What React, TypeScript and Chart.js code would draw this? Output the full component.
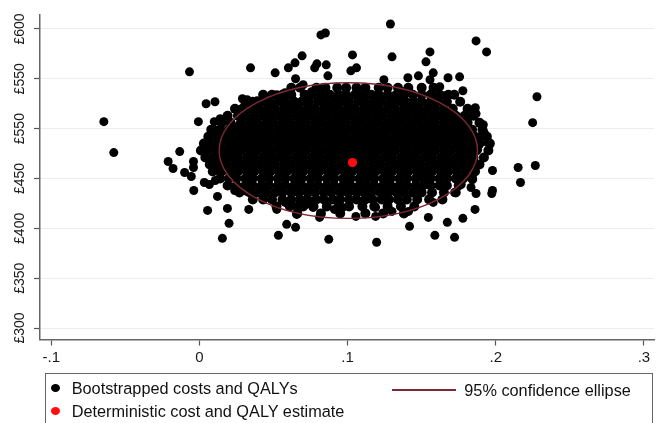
import React, { useEffect, useRef } from 'react';
import { Chart, registerables } from 'chart.js';

Chart.register(...registerables);

const FONT = '"Liberation Sans", Arial, Helvetica, sans-serif';

// Axis ticks
const xTickValues = [-0.1, 0, 0.1, 0.2, 0.3];
const xTickLabels = ['-.1', '0', '.1', '.2', '.3'];
const yTickValues = [300, 350, 400, 450, 500, 550, 600];
const yTickLabels = ['£300', '£350', '£400', '£450', '£550', '£550', '£600'];

// Legend labels
const seriesLabels = ['Bootstrapped costs and QALYs', 'Deterministic cost and QALY estimate', '95% confidence ellipse'];

// Bootstrapped (incremental QALY, incremental cost) pairs: scattered outer points
const outerPoints: [number, number][] = [
  [-0.0067, 557], [-0.0645, 507], [0.0045, 525], [0.0105, 527], [-0.0007, 507], [0.010, 507], [0.014, 510], [0.029, 530], [0.010, 499], [0.0245, 502],
  [0.1289, 605], [0.082, 594], [0.085, 596], [0.0345, 561], [0.0511, 556], [0.060, 561], [0.0645, 566], [0.0693, 573], [0.0649, 550], [0.0778, 561],
  [0.0793, 565], [0.0856, 564], [0.0867, 553], [0.1033, 574], [0.1022, 558], [0.106, 561], [0.130, 572], [0.1245, 549], [0.070, 544], [0.0322, 529],
  [0.0389, 528], [0.0489, 525], [0.0522, 534], [0.0578, 536], [0.0756, 537], [0.0833, 541],
  [0.1867, 588], [0.1938, 577], [0.1556, 577], [0.1529, 567], [0.1407, 551], [0.1478, 553], [0.1578, 556], [0.1556, 549], [0.1678, 551], [0.1756, 552],
  [0.1778, 538], [0.1622, 542], [0.1656, 533], [0.2278, 532], [0.2249, 506], [0.1862, 521], [0.1867, 515], [0.1916, 504], [0.1682, 516], [0.1716, 507],
  [0.1767, 498], [0.1378, 537], [0.1433, 526], [0.1378, 526], [0.1578, 531], [0.159, 524], [0.1567, 514], [0.1467, 512], [0.140, 514], [0.1556, 506],
  [-0.0578, 476], [-0.0133, 477], [-0.0211, 467], [-0.0178, 460], [-0.010, 456], [-0.0055, 452], [-0.004, 467], [-0.004, 461], [-0.0038, 438], [0.0033, 446],
  [0.0067, 444], [0.0107, 448], [0.0122, 432], [0.0055, 418], [0.0189, 420], [0.020, 405], [0.0155, 390], [0.0055, 484], [0.0033, 480], [0.0111, 458],
  [0.0222, 454], [0.0238, 438], [0.010, 496], [0.0133, 472], [0.0189, 471], [0.0255, 487],
  [0.0333, 419], [0.0533, 393], [0.0589, 404], [0.0649, 401], [0.0873, 389], [0.1196, 386], [0.0811, 411], [0.1056, 412], [0.1189, 412], [0.130, 417],
  [0.0522, 419], [0.0578, 426], [0.0656, 422], [0.0656, 414], [0.0722, 424], [0.0767, 421], [0.0911, 419], [0.0967, 421], [0.1189, 421], [0.0345, 446],
  [0.0322, 437],
  [0.1978, 458], [0.2151, 461], [0.2267, 463], [0.2167, 446], [0.1978, 438], [0.1973, 435], [0.1867, 435], [0.186, 419], [0.1778, 410], [0.1673, 406],
  [0.1545, 411], [0.1418, 402], [0.1589, 393], [0.1722, 391], [0.1411, 417], [0.1578, 426], [0.1722, 436], [0.1833, 441], [0.1844, 449], [0.1767, 444],
  [0.190, 492], [0.1944, 486], [0.1922, 496], [0.1878, 479],
];

// Dense core of the bootstrap cloud, read row by row: [cost, QALY values in that row]
const coreRows: [number, number[]][] = [
  [541, [0.062, 0.068, 0.079, 0.085, 0.093, 0.099, 0.106, 0.112, 0.121, 0.127, 0.134, 0.141, 0.150, 0.158]],
  [534, [0.043, 0.049, 0.056, 0.062, 0.071, 0.076, 0.082, 0.088, 0.094, 0.099, 0.105, 0.110, 0.116, 0.121, 0.127, 0.133, 0.138, 0.144, 0.150, 0.156, 0.162, 0.168, 0.172]],
  [527, [0.031, 0.036, 0.042, 0.047, 0.053, 0.058, 0.064, 0.069, 0.074, 0.080, 0.085, 0.091, 0.096, 0.101, 0.107, 0.112, 0.118, 0.123, 0.129, 0.134, 0.139, 0.145, 0.150, 0.156, 0.161, 0.167, 0.176]],
  [520, [0.024, 0.029, 0.035, 0.040, 0.046, 0.051, 0.057, 0.062, 0.067, 0.073, 0.078, 0.084, 0.089, 0.094, 0.100, 0.105, 0.111, 0.116, 0.121, 0.127, 0.132, 0.138, 0.143, 0.148, 0.154, 0.159, 0.165, 0.171, 0.181]],
  [513, [0.019, 0.026, 0.031, 0.037, 0.043, 0.048, 0.054, 0.059, 0.065, 0.070, 0.075, 0.081, 0.086, 0.092, 0.097, 0.102, 0.108, 0.113, 0.119, 0.124, 0.130, 0.135, 0.140, 0.146, 0.151, 0.157, 0.162, 0.168, 0.173, 0.179, 0.185]],
  [506, [0.015, 0.021, 0.028, 0.034, 0.039, 0.045, 0.050, 0.056, 0.061, 0.067, 0.072, 0.078, 0.083, 0.089, 0.094, 0.099, 0.105, 0.110, 0.116, 0.121, 0.127, 0.132, 0.137, 0.143, 0.148, 0.154, 0.159, 0.165, 0.170, 0.176, 0.181, 0.189]],
  [499, [0.008, 0.014, 0.020, 0.025, 0.031, 0.036, 0.042, 0.047, 0.053, 0.058, 0.064, 0.069, 0.075, 0.080, 0.086, 0.091, 0.097, 0.102, 0.108, 0.113, 0.118, 0.124, 0.129, 0.135, 0.140, 0.146, 0.151, 0.156, 0.162, 0.167, 0.173, 0.178, 0.184, 0.191]],
  [492, [0.006, 0.011, 0.017, 0.022, 0.028, 0.033, 0.039, 0.044, 0.050, 0.055, 0.061, 0.066, 0.072, 0.077, 0.083, 0.088, 0.094, 0.099, 0.105, 0.110, 0.116, 0.121, 0.126, 0.132, 0.137, 0.143, 0.148, 0.154, 0.159, 0.164, 0.170, 0.175, 0.181, 0.186, 0.194]],
  [485, [0.003, 0.009, 0.014, 0.020, 0.025, 0.031, 0.036, 0.042, 0.047, 0.053, 0.058, 0.064, 0.069, 0.075, 0.080, 0.086, 0.091, 0.097, 0.102, 0.108, 0.113, 0.118, 0.124, 0.129, 0.135, 0.140, 0.146, 0.151, 0.156, 0.162, 0.167, 0.173, 0.178, 0.184, 0.189, 0.196]],
  [478, [0.001, 0.006, 0.012, 0.017, 0.023, 0.028, 0.034, 0.039, 0.045, 0.050, 0.056, 0.061, 0.067, 0.072, 0.078, 0.083, 0.089, 0.094, 0.100, 0.105, 0.110, 0.116, 0.121, 0.127, 0.132, 0.138, 0.143, 0.148, 0.154, 0.159, 0.165, 0.170, 0.176, 0.181, 0.187, 0.195]],
  [471, [0.004, 0.010, 0.015, 0.021, 0.026, 0.032, 0.037, 0.043, 0.048, 0.054, 0.059, 0.065, 0.070, 0.076, 0.081, 0.087, 0.092, 0.098, 0.103, 0.108, 0.114, 0.119, 0.125, 0.130, 0.136, 0.141, 0.146, 0.152, 0.157, 0.163, 0.168, 0.174, 0.179, 0.185, 0.192]],
  [464, [0.007, 0.013, 0.018, 0.024, 0.029, 0.035, 0.040, 0.046, 0.051, 0.057, 0.062, 0.068, 0.073, 0.079, 0.084, 0.090, 0.095, 0.101, 0.106, 0.111, 0.117, 0.122, 0.128, 0.133, 0.139, 0.144, 0.149, 0.155, 0.160, 0.166, 0.171, 0.177, 0.183, 0.189]],
  [457, [0.009, 0.015, 0.021, 0.026, 0.032, 0.037, 0.043, 0.048, 0.054, 0.059, 0.065, 0.070, 0.076, 0.081, 0.087, 0.092, 0.098, 0.103, 0.109, 0.114, 0.119, 0.125, 0.130, 0.136, 0.141, 0.147, 0.152, 0.157, 0.163, 0.168, 0.174, 0.180, 0.186]],
  [450, [0.014, 0.020, 0.025, 0.031, 0.036, 0.042, 0.047, 0.053, 0.058, 0.064, 0.069, 0.075, 0.080, 0.086, 0.091, 0.097, 0.102, 0.108, 0.113, 0.118, 0.124, 0.129, 0.135, 0.140, 0.146, 0.151, 0.156, 0.162, 0.167, 0.173, 0.178, 0.184]],
  [443, [0.019, 0.025, 0.031, 0.036, 0.042, 0.047, 0.053, 0.058, 0.064, 0.069, 0.075, 0.080, 0.086, 0.091, 0.097, 0.102, 0.108, 0.113, 0.118, 0.124, 0.129, 0.135, 0.140, 0.146, 0.151, 0.156, 0.162, 0.167, 0.175]],
  [436, [0.027, 0.034, 0.040, 0.045, 0.051, 0.056, 0.062, 0.067, 0.073, 0.078, 0.084, 0.089, 0.095, 0.100, 0.106, 0.111, 0.116, 0.122, 0.127, 0.133, 0.138, 0.144, 0.150, 0.157, 0.165, 0.173]],
  [429, [0.036, 0.043, 0.049, 0.056, 0.062, 0.068, 0.073, 0.079, 0.084, 0.090, 0.095, 0.101, 0.106, 0.112, 0.117, 0.123, 0.128, 0.134, 0.140, 0.147, 0.155, 0.164]],
  [422, [0.052, 0.061, 0.070, 0.077, 0.086, 0.094, 0.101, 0.110, 0.118, 0.127, 0.136, 0.145]],
  [415, [0.066, 0.082, 0.095, 0.112, 0.124, 0.138]],
];

const deterministicPoint: [number, number] = [0.1033, 466];

// 95% confidence ellipse: centre and semi-axes (QALY, cost)
const ellipseCenter: [number, number] = [0.1005, 478];
const ellipseSemiAxes: [number, number] = [0.0872, 68];

const ELLIPSE_COLOR = '#7b2a35';
const RED = '#ff0d0d';

const ellipsePlugin = {
  id: 'ceEllipse',
  beforeDatasetDraw(chart: any, args: any) {
    if (args.index !== 1) return;
    const xs = chart.scales.x;
    const ys = chart.scales.y;
    const cx = xs.getPixelForValue(ellipseCenter[0]);
    const cy = ys.getPixelForValue(ellipseCenter[1]);
    const rx = Math.abs(xs.getPixelForValue(ellipseCenter[0] + ellipseSemiAxes[0]) - cx);
    const ry = Math.abs(ys.getPixelForValue(ellipseCenter[1] + ellipseSemiAxes[1]) - cy);
    const ctx = chart.ctx;
    ctx.save();
    ctx.beginPath();
    ctx.ellipse(cx, cy, rx, ry, 0, 0, Math.PI * 2);
    ctx.strokeStyle = ELLIPSE_COLOR;
    ctx.lineWidth = 1.4;
    ctx.stroke();
    ctx.restore();
  },
};

export default function App() {
  const canvasRef = useRef<HTMLCanvasElement | null>(null);

  useEffect(() => {
    if (!canvasRef.current) return;
    const bootData = [
      ...outerPoints.map(([x, y]) => ({ x, y })),
      ...coreRows.flatMap(([y, xs]) => xs.map((x) => ({ x, y }))),
    ];
    const nOuter = outerPoints.length;
    const chart = new Chart(canvasRef.current, {
      type: 'scatter',
      data: {
        datasets: [
          {
            label: seriesLabels[0],
            data: bootData,
            backgroundColor: '#000000',
            borderWidth: 0,
            pointRadius: (c: any) => (c.dataIndex >= nOuter ? 5.0 : 4.5),
            order: 1,
          },
          {
            label: seriesLabels[1],
            data: [{ x: deterministicPoint[0], y: deterministicPoint[1] }],
            backgroundColor: RED,
            borderWidth: 0,
            pointRadius: 4.6,
            order: 0,
          },
        ],
      },
      options: {
        responsive: false,
        animation: false,
        events: [],
        layout: { padding: { top: 15, left: 0, right: 0, bottom: 0 } },
        plugins: { legend: { display: false }, tooltip: { enabled: false } },
        scales: {
          x: {
            type: 'linear',
            min: -0.1076,
            max: 0.3068,
            afterBuildTicks: (scale: any) => {
              scale.ticks = xTickValues.map((v) => ({ value: v }));
            },
            afterFit: (scale: any) => {
              scale.height = 83.5;
            },
            grid: { drawOnChartArea: false, drawTicks: true, tickLength: 6, tickColor: '#555', tickWidth: 1.2 },
            border: { display: true, color: '#666', width: 1.5 },
            ticks: {
              padding: 3,
              maxRotation: 0,
              minRotation: 0,
              color: '#1a1a1a',
              font: { family: FONT, size: 15 },
              callback: (v: any) => {
                const i = xTickValues.findIndex((t) => Math.abs(t - Number(v)) < 1e-9);
                return i >= 0 ? xTickLabels[i] : '';
              },
            },
          },
          y: {
            type: 'linear',
            min: 288.5,
            max: 614,
            afterBuildTicks: (scale: any) => {
              scale.ticks = yTickValues.map((v) => ({ value: v }));
            },
            afterFit: (scale: any) => {
              scale.width = 40;
            },
            grid: { color: '#e9eef2', lineWidth: 1, drawTicks: true, tickLength: 6, tickColor: '#555', tickWidth: 1.2 },
            border: { display: true, color: '#666', width: 1.5 },
            ticks: {
              padding: -2,
              minRotation: 90,
              maxRotation: 90,
              crossAlign: 'center',
              color: '#1a1a1a',
              font: { family: FONT, size: 14 },
              callback: (v: any) => {
                const i = yTickValues.findIndex((t) => Math.abs(t - Number(v)) < 1e-9);
                return i >= 0 ? yTickLabels[i] : '';
              },
            },
          },
        },
      },
      plugins: [ellipsePlugin],
    } as any);
    return () => chart.destroy();
  }, []);

  const textStyle: React.CSSProperties = {
    position: 'absolute',
    fontFamily: FONT,
    fontSize: '16.3px',
    lineHeight: '20px',
    color: '#111',
    whiteSpace: 'nowrap',
  };
  const dot = (color: string, cx: number, cy: number): React.CSSProperties => ({
    position: 'absolute',
    left: cx - 4.5,
    top: cy - 4,
    width: 9,
    height: 8,
    borderRadius: '50%',
    background: color,
  });

  return (
    <div style={{ position: 'fixed', left: 0, top: 0, width: 659, height: 423, background: '#fff', overflow: 'hidden' }}>
      <canvas ref={canvasRef} width={659} height={423} style={{ position: 'absolute', left: 0, top: 0 }} />
      <div
        style={{
          position: 'absolute',
          left: 45,
          top: 373,
          width: 608,
          height: 70,
          border: '1.5px solid #666',
          boxSizing: 'border-box',
        }}
      />
      <div style={dot('#000', 55.7, 388.3)} />
      <div style={{ ...textStyle, left: 71.7, top: 378 }}>{seriesLabels[0]}</div>
      <div style={dot(RED, 55.7, 411)} />
      <div style={{ ...textStyle, left: 71.7, top: 401 }}>{seriesLabels[1]}</div>
      <div style={{ position: 'absolute', left: 391.7, top: 389.3, width: 64, height: 1.4, background: ELLIPSE_COLOR }} />
      <div style={{ ...textStyle, left: 464.3, top: 380 }}>{seriesLabels[2]}</div>
    </div>
  );
}
